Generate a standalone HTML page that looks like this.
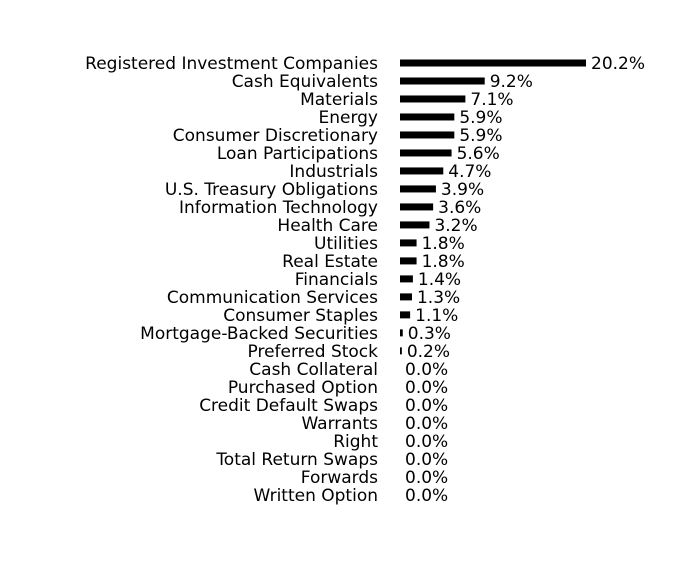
<!DOCTYPE html>
<html><head><meta charset="utf-8"><style>
html,body{margin:0;padding:0;background:#fff;}
svg text{font-family:"DejaVu Sans","Liberation Sans",sans-serif;font-size:17px;fill:#000;}
</style></head><body>
<svg id="chart" width="696" height="576" xmlns="http://www.w3.org/2000/svg"></svg>
<script>
const categories=["Registered Investment Companies","Cash Equivalents","Materials","Energy","Consumer Discretionary","Loan Participations","Industrials","U.S. Treasury Obligations","Information Technology","Health Care","Utilities","Real Estate","Financials","Communication Services","Consumer Staples","Mortgage-Backed Securities","Preferred Stock","Cash Collateral","Purchased Option","Credit Default Swaps","Warrants","Right","Total Return Swaps","Forwards","Written Option"];
const values=[20.2,9.2,7.1,5.9,5.9,5.6,4.7,3.9,3.6,3.2,1.8,1.8,1.4,1.3,1.1,0.3,0.2,0.0,0.0,0.0,0.0,0.0,0.0,0.0,0.0];
const svg=document.getElementById('chart');
const NS='http://www.w3.org/2000/svg';
const x0=400, pxPer=186/20.2, y0=63, step=(493-63)/23.9;
const xScale=v=>v*pxPer;
const yScale=i=>y0+i*step;
categories.forEach((c,i)=>{
  const y=yScale(i);
  const t=document.createElementNS(NS,'text');
  
  
  t.setAttribute('x',378);t.setAttribute('y',y+6);t.setAttribute('text-anchor','end');
  t.textContent=c;svg.appendChild(t);
  const w=xScale(values[i]);
  if(w>0){
    const r=document.createElementNS(NS,'rect');
    
    
    r.setAttribute('x',x0);r.setAttribute('y',y-3.5);r.setAttribute('width',w);r.setAttribute('height',7);r.setAttribute('fill','#000');
    svg.appendChild(r);
  }
  const v=document.createElementNS(NS,'text');
  
  
  v.setAttribute('x',x0+w+5);v.setAttribute('y',y+6);
  v.textContent=values[i].toFixed(1)+'%';svg.appendChild(v);
});
</script>
</body></html>
